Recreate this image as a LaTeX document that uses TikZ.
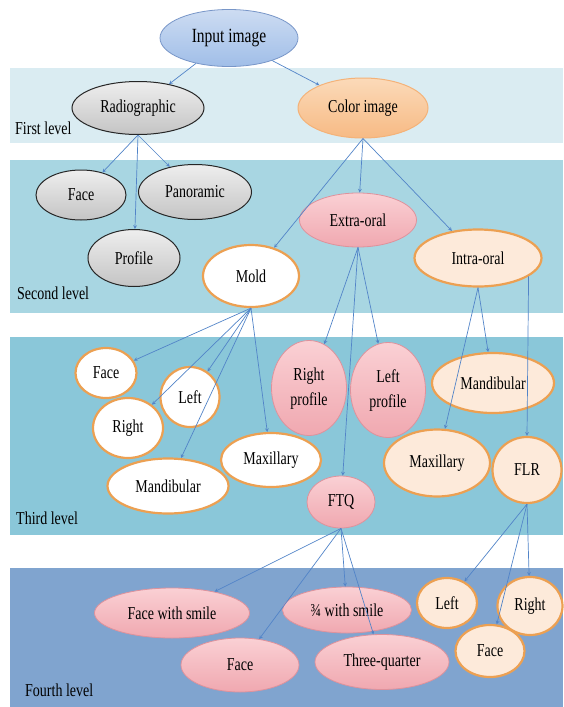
\documentclass[tikz,border=0pt]{standalone}
\usepackage{fontspec}
\setmainfont{Liberation Serif}
\usepackage{graphicx}
\usetikzlibrary{shapes.geometric, arrows}
\definecolor{bandA}{RGB}{218,236,242}
\definecolor{bandB}{RGB}{168,214,226}
\definecolor{bandC}{RGB}{138,199,217}
\definecolor{bandD}{RGB}{128,164,207}
\definecolor{inputtop}{RGB}{205,220,242}
\definecolor{inputbot}{RGB}{160,190,232}
\definecolor{inputline}{RGB}{120,150,200}
\definecolor{xraytop}{RGB}{238,238,238}
\definecolor{xraybot}{RGB}{196,196,196}
\definecolor{phototop}{RGB}{251,218,185}
\definecolor{photobot}{RGB}{247,186,132}
\definecolor{photoline}{RGB}{244,178,120}
\definecolor{pinktop}{RGB}{250,208,212}
\definecolor{pinkbot}{RGB}{240,168,176}
\definecolor{pinkline}{RGB}{222,146,156}
\definecolor{orangeline}{RGB}{236,160,82}
\definecolor{peach}{RGB}{253,234,218}
\definecolor{arrowblue}{RGB}{82,132,200}
\newcommand{\vs}[1]{\scalebox{1}[1.3]{#1}}
\tikzstyle{oval} = [ellipse, inner sep=0pt, text centered, font=\fontsize{14}{19}\selectfont]
\tikzstyle{inputnode} = [oval, draw=inputline, top color=inputtop, bottom color=inputbot, line width=0.8pt]
\tikzstyle{xray} = [oval, draw=black!85, top color=xraytop, bottom color=xraybot, line width=1pt]
\tikzstyle{photo} = [oval, draw=photoline, top color=phototop, bottom color=photobot, line width=1pt]
\tikzstyle{pinknode} = [oval, draw=pinkline, top color=pinktop, bottom color=pinkbot, line width=0.8pt]
\tikzstyle{moldnode} = [oval, draw=orangeline, fill=white, line width=2.2pt]
\tikzstyle{intranode} = [oval, draw=orangeline, fill=peach, line width=2.2pt]
\tikzstyle{lvl} = [anchor=west, inner sep=0pt, font=\fontsize{14}{19}\selectfont]
\tikzstyle{arrow} = [line width=0.7pt, draw=arrowblue, ->, >=stealth]

\begin{document}
\begin{tikzpicture}[x=1pt, y=-1pt]
\useasboundingbox (0,0) rectangle (563,707);
% level bands
\fill[bandA] (10,68) rectangle (563,143);
\fill[bandB] (10,160) rectangle (563,313);
\fill[bandC] (10,337) rectangle (563,535);
\fill[bandD] (10,568) rectangle (563,707);

\node (input) [inputnode, minimum width=138pt, minimum height=57pt, font=\fontsize{15.5}{19}\selectfont] at (229,38) {\vs{Input image}};
\node (radio) [xray, minimum width=132pt, minimum height=53pt] at (138,108) {\vs{Radiographic}};
\node (color) [photo, minimum width=130pt, minimum height=60pt] at (363,108) {\vs{Color image}};

\node (rface) [xray, minimum width=90pt, minimum height=50pt] at (81,195) {\vs{Face}};
\node (rpano) [xray, minimum width=113pt, minimum height=55pt] at (195,192) {\vs{Panoramic}};
\node (rprof) [xray, minimum width=92pt, minimum height=57pt] at (134,258) {\vs{Profile}};
\node (extra) [pinknode, minimum width=117pt, minimum height=54pt] at (358,220) {\vs{Extra-oral}};
\node (mold) [moldnode, minimum width=96pt, minimum height=62pt] at (251,276) {\vs{Mold}};
\node (intra) [intranode, minimum width=127pt, minimum height=57pt] at (478,258) {\vs{Intra-oral}};

\node (mface) [moldnode, minimum width=61pt, minimum height=50pt] at (106,373) {\vs{Face}};
\node (mleft) [moldnode, minimum width=59pt, minimum height=60pt] at (190,397) {\vs{Left}};
\node (mright) [moldnode, minimum width=70pt, minimum height=60pt] at (128,428) {\vs{Right}};
\node (mmand) [moldnode, minimum width=121pt, minimum height=55pt] at (168,486) {\vs{Mandibular}};
\node (mmax) [moldnode, minimum width=100pt, minimum height=54pt] at (271,460) {\vs{Maxillary}};
\node (eright) [pinknode, minimum width=75pt, minimum height=95pt] at (309,388) {\vs{\begin{tabular}{@{}c@{}}Right\\profile\end{tabular}}};
\node (eleft) [pinknode, minimum width=75pt, minimum height=95pt] at (388,390) {\vs{\begin{tabular}{@{}c@{}}Left\\profile\end{tabular}}};
\node (ftq) [pinknode, minimum width=68pt, minimum height=52pt] at (341,502) {\vs{FTQ}};
\node (imand) [intranode, minimum width=122pt, minimum height=60pt] at (493,383) {\vs{Mandibular}};
\node (imax) [intranode, minimum width=106pt, minimum height=67pt] at (437,463) {\vs{Maxillary}};
\node (flr) [intranode, minimum width=69pt, minimum height=66pt] at (527,470) {\vs{FLR}};

\node (fsmile) [pinknode, minimum width=155pt, minimum height=50pt] at (172,613) {\vs{Face with smile}};
\node (qsmile) [pinknode, minimum width=129pt, minimum height=46pt] at (347,610) {\vs{¾ with smile}};
\node (fface) [pinknode, minimum width=118pt, minimum height=54pt] at (240,665) {\vs{Face}};
\node (fquarter) [pinknode, minimum width=134pt, minimum height=55pt] at (382,662) {\vs{Three-quarter}};
\node (lleft) [intranode, minimum width=60pt, minimum height=50pt] at (447,603) {\vs{Left}};
\node (lright) [intranode, minimum width=65pt, minimum height=58pt] at (530,606) {\vs{Right}};
\node (lface) [intranode, minimum width=69pt, minimum height=52pt] at (490,651) {\vs{Face}};

\node (first) [lvl] at (15,128) {\vs{First level}};
\node (second) [lvl] at (17,293) {\vs{Second level}};
\node (third) [lvl] at (16,518) {\vs{Third level}};
\node (fourth) [lvl] at (25,690) {\vs{Fourth level}};

\draw[arrow] (input) -- (radio);
\draw[arrow] (input) -- (color);
\draw[arrow] (radio.south) -- (rface);
\draw[arrow] (radio.south) -- (rprof);
\draw[arrow] (radio.south) -- (rpano);
\draw[arrow] (color.south) -- (mold);
\draw[arrow] (color.south) -- (extra);
\draw[arrow] (color.south) -- (intra);
\draw[arrow] (mold.south) -- (mface);
\draw[arrow] (mold.south) -- (mright);
\draw[arrow] (mold.south) -- (mleft);
\draw[arrow] (mold.south) -- (mmand);
\draw[arrow] (mold.south) -- (mmax);
\draw[arrow] (extra.south) -- (eright);
\draw[arrow] (extra.south) -- (ftq);
\draw[arrow] (extra.south) -- (eleft);
\draw[arrow] (intra.south) -- (imax);
\draw[arrow] (intra.south) -- (imand);
\draw[arrow] (intra.-20) -- (flr.north);
\draw[arrow] (ftq.south) -- (fsmile);
\draw[arrow] (ftq.south) -- (fface);
\draw[arrow] (ftq.south) -- (qsmile);
\draw[arrow] (ftq.south) -- (fquarter);
\draw[arrow] (flr.south) -- (lleft);
\draw[arrow] (flr.south) -- (lface);
\draw[arrow] (flr.south) -- (lright);
\end{tikzpicture}
\end{document}
